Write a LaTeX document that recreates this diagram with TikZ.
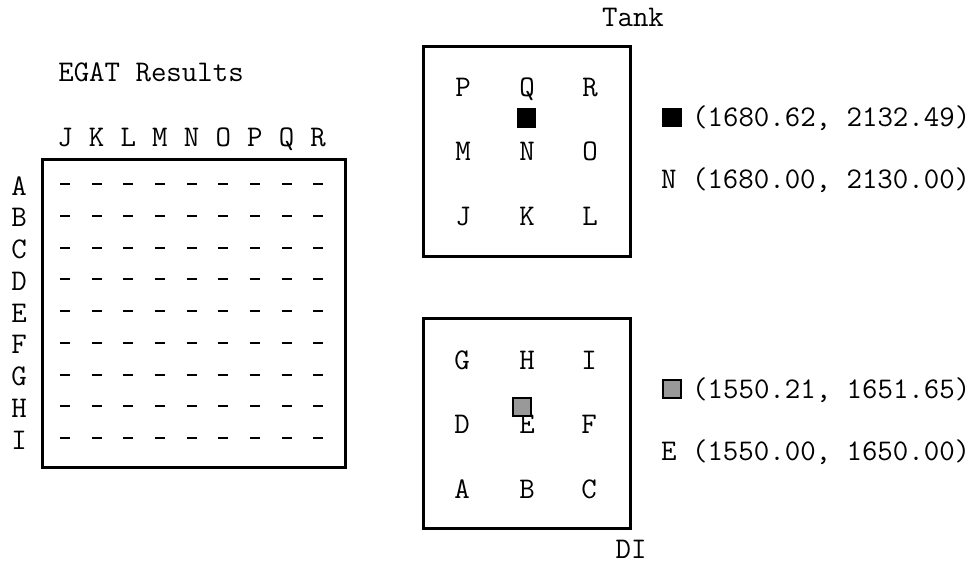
\documentclass[tikz,border=0pt]{standalone}
\usepackage{fontspec}
\setmonofont{Latin Modern Mono}
\begin{document}
\begin{tikzpicture}[x=1pt,y=-1pt,
  txt/.style={inner sep=0pt, font=\ttfamily\fontsize{30}{34}\selectfont, text height=18pt, text depth=0pt},
  frame/.style={draw=black, line width=3pt},
  gridmark/.style={draw=black, line width=2pt},
  hitdark/.style={fill=black},
  hitgray/.style={draw=black, line width=2.2pt, fill=black!40}]
\useasboundingbox (0,0) rectangle (977,563);

% ---------- EGAT result grid ----------
\node[txt] (egat) at (151,72) {EGAT Results};
\draw[frame] (42,159) rectangle (345,467);
\foreach \c [count=\i from 0] in {J,K,L,M,N,O,P,Q,R}
  \node[txt] (col-\c) at (65+31.65*\i,137) {\c};
\foreach \r [count=\j from 0] in {A,B,C,D,E,F,G,H,I}{
  \node[txt] (row-\r) at (19,186+31.75*\j) {\r};
  \pgfmathsetmacro{\yy}{round(184+31.75*\j)}
  \foreach \i in {0,...,8}{
    \pgfmathsetmacro{\xx}{round(60+31.65*\i)}
    \draw[gridmark] (\xx,\yy) -- ++(10,0);
  }
}

% ---------- Tank array ----------
\node[txt] (tank) at (633,17) {Tank};
\draw[frame] (423,46) rectangle (630,256);
\foreach \a/\b/\cc [count=\k from 0] in {P/Q/R,M/N/O,J/K/L}{
  \node[txt] (t-\a) at (463,87+64.5*\k) {\a};
  \node[txt] (t-\b) at (527,87+64.5*\k) {\b};
  \node[txt] (t-\cc) at (590,87+64.5*\k) {\cc};
}
\fill[hitdark] (517,108) rectangle (536,128);

% ---------- DI array ----------
\draw[frame] (423,318) rectangle (630,528);
\node[txt] (di) at (631,549) {DI};
\foreach \a/\b/\cc [count=\k from 0] in {G/H/I,D/E/F,A/B/C}{
  \node[txt] (d-\a) at (462,360+64.5*\k) {\a};
  \node[txt] (d-\b) at (527,360+64.5*\k) {\b};
  \node[txt] (d-\cc) at (589,360+64.5*\k) {\cc};
}
\filldraw[hitgray] (513,398) rectangle (531,416);

% ---------- Coordinates ----------
\fill[hitdark] (662,108) rectangle (682,127);
\node[txt, anchor=west] (tankhit) at (692,117.5) {(1680.62, 2132.49)};
\node[txt, anchor=west] (tankref) at (661,179) {N (1680.00, 2130.00)};
\filldraw[hitgray] (663,380) rectangle (681,398);
\node[txt, anchor=west] (dihit) at (692,389) {(1550.21, 1651.65)};
\node[txt, anchor=west] (diref) at (661,451) {E (1550.00, 1650.00)};
\end{tikzpicture}
\end{document}
